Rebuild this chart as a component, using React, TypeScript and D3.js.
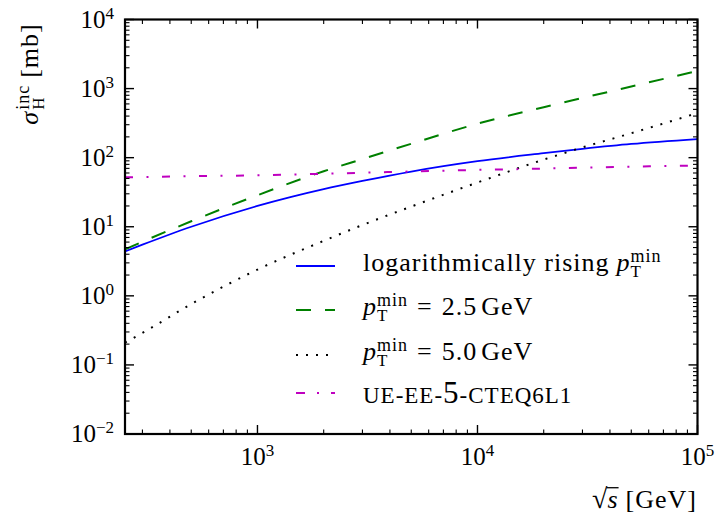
import React, { useEffect, useRef } from 'react';
import * as d3 from 'd3';

// sqrt(s) in GeV
const energies = [250, 300, 500, 1000, 2000, 3000, 5000, 10000, 20000, 30000, 50000, 100000];
// inclusive cross sections in mb
const sigmaLogRising = [4.4, 5.5, 10, 20, 35, 46, 63, 89, 116, 134, 158, 186];
const sigmaPt25 = [4.7, 6.07, 12, 28.6, 63.5, 95.5, 159, 310, 537, 731, 1072, 1800];
const sigmaPt50 = [0.21, 0.29, 0.76, 2.4, 6.25, 10.6, 19.6, 43.7, 93.8, 140.6, 226, 442];
const sigmaTune = [52, 52.5, 54, 55.5, 58.5, 60.5, 63, 66.5, 69.5, 71.5, 74, 77];

const xTickExponents = [3, 4, 5];
const yTickExponents = [-2, -1, 0, 1, 2, 3, 4];

const FONT = '"Liberation Serif", "DejaVu Serif", serif';

type Piece = {
    t?: string;
    size?: number;
    italic?: boolean;
    dy?: number;
    gap?: number;
    over?: boolean;
    sup?: string;
    sub?: string;
};

type Style = {
    size: number;
    script: number;
    spacing: number;
    supDy: number;
    subDy: number;
};

const tickStyle: Style = { size: 25, script: 17, spacing: 0, supDy: -9, subDy: 6 };
const textStyle: Style = { size: 26, script: 18, spacing: 1, supDy: -9, subDy: 6 };

/**
 * Lays out a small piece of "math" text, one <text> per chunk.
 */
function mathText(parent: any, x: number, y: number, pieces: Array<Piece>, st: Style,
        anchor = 'start', rotate = 0) {
    const g = parent.append('g')
        .attr('transform', `translate(${x},${y}) rotate(${rotate})`);
    const inner = g.append('g');
    let cx = 0;

    const put = (t: string, size: number, italic: boolean, dy: number) => {
        const el = inner.append('text')
            .attr('x', cx)
            .attr('y', dy)
            .attr('font-size', size)
            .attr('font-family', FONT)
            .attr('font-style', italic ? 'italic' : 'normal')
            .attr('letter-spacing', st.spacing)
            .attr('fill', '#000')
            .text(t);

        return el.node().getComputedTextLength();
    };

    pieces.forEach(p => {
        if (p.sup !== undefined || p.sub !== undefined) {
            const w1 = p.sup ? put(p.sup, st.script, false, st.supDy) : 0;
            const w2 = p.sub ? put(p.sub, st.script - 1, false, st.subDy) : 0;

            cx += Math.max(w1, w2) + (p.gap || 0);
        } else {
            const size = p.size || st.size;
            const w = put(p.t || '', size, !!p.italic, p.dy || 0);

            if (p.over) {
                inner.append('line')
                    .attr('x1', cx - 1)
                    .attr('x2', cx + w)
                    .attr('y1', -size * 0.78)
                    .attr('y2', -size * 0.78)
                    .attr('stroke', '#000')
                    .attr('stroke-width', 1.3);
            }
            cx += w + (p.gap || 0);
        }
    });

    const shift = anchor === 'end' ? -cx : anchor === 'middle' ? -cx / 2 : 0;

    inner.attr('transform', `translate(${shift},0)`);
}

const App = () => {
    const ref = useRef<SVGSVGElement>(null);

    useEffect(() => {
        document.body.style.margin = '0';
        const svg = d3.select(ref.current);

        svg.selectAll('*').remove();

        const left = 125;
        const right = 697.5;
        const top = 19.5;
        const bottom = 434;

        const x = d3.scaleLog().domain([250, 1e5]).range([left, right]);
        const y = d3.scaleLog().domain([1e-2, 1e4]).range([bottom, top]);

        svg.append('defs').append('clipPath')
            .attr('id', 'plot-clip')
            .append('rect')
            .attr('x', left)
            .attr('y', top)
            .attr('width', right - left)
            .attr('height', bottom - top);

        const series = [
            { values: sigmaLogRising, color: '#0000ff', dash: null, width: 1.8 },
            { values: sigmaPt25, color: '#008000', dash: '15,14', width: 2 },
            { values: sigmaPt50, color: '#000000', dash: '2,8', width: 2 },
            { values: sigmaTune, color: '#bf00bf', dash: '8,13.5,2,13.5', width: 2 }
        ];

        const line = d3.line<[number, number]>()
            .x(d => x(d[0]))
            .y(d => y(d[1]))
            .curve(d3.curveMonotoneX);

        const plot = svg.append('g').attr('clip-path', 'url(#plot-clip)');

        series.forEach(s => {
            plot.append('path')
                .datum(energies.map((e, i) => [e, s.values[i]] as [number, number]))
                .attr('d', line)
                .attr('fill', 'none')
                .attr('stroke', s.color)
                .attr('stroke-width', s.width)
                .attr('stroke-dasharray', s.dash);
        });

        // ticks on all four sides, pointing inwards
        const ticks = svg.append('g').attr('stroke', '#000');
        const xMajor = xTickExponents.map(e => Math.pow(10, e));
        const xMinor: Array<number> = [];

        [2, 3, 4].forEach(e => {
            for (let k = 2; k <= 9; k++) {
                const v = k * Math.pow(10, e);

                if (v >= 250 && v <= 1e5) {
                    xMinor.push(v);
                }
            }
        });
        const yMajor = yTickExponents.map(e => Math.pow(10, e));
        const yMinor: Array<number> = [];

        [-2, -1, 0, 1, 2, 3].forEach(e => {
            for (let k = 2; k <= 9; k++) {
                yMinor.push(k * Math.pow(10, e));
            }
        });

        const addX = (vals: Array<number>, len: number, w: number) => {
            vals.forEach(v => {
                const px = x(v);

                ticks.append('line').attr('x1', px).attr('x2', px)
                    .attr('y1', bottom).attr('y2', bottom - len).attr('stroke-width', w);
                ticks.append('line').attr('x1', px).attr('x2', px)
                    .attr('y1', top).attr('y2', top + len).attr('stroke-width', w);
            });
        };
        const addY = (vals: Array<number>, len: number, w: number) => {
            vals.forEach(v => {
                const py = y(v);

                ticks.append('line').attr('y1', py).attr('y2', py)
                    .attr('x1', left).attr('x2', left + len).attr('stroke-width', w);
                ticks.append('line').attr('y1', py).attr('y2', py)
                    .attr('x1', right).attr('x2', right - len).attr('stroke-width', w);
            });
        };

        addX(xMajor, 9, 1.4);
        addX(xMinor, 4.5, 1.1);
        addY(yMajor, 9, 1.4);
        addY(yMinor, 4.5, 1.1);

        svg.append('rect')
            .attr('x', left)
            .attr('y', top)
            .attr('width', right - left)
            .attr('height', bottom - top)
            .attr('fill', 'none')
            .attr('stroke', '#000')
            .attr('stroke-width', 2.2);

        // tick labels
        xTickExponents.forEach(e => {
            mathText(svg, x(Math.pow(10, e)), 465,
                [ { t: '10' }, { sup: String(e) } ], tickStyle, 'middle');
        });
        yTickExponents.forEach(e => {
            mathText(svg, 114, y(Math.pow(10, e)) + 8,
                [ { t: '10' }, { sup: e < 0 ? `\u2212${-e}` : String(e) } ], tickStyle, 'end');
        });

        // axis titles
        mathText(svg, 697, 508, [
            { t: '\u221A', size: 28, gap: -1 },
            { t: 's', italic: true, over: true, gap: 7 },
            { t: '[GeV]' }
        ], textStyle, 'end');

        mathText(svg, 37.5, 74, [
            { t: '\u03C3', italic: true, gap: 1 },
            { sup: 'inc', sub: 'H', gap: 7 },
            { t: '[mb]' }
        ], textStyle, 'middle', -90);

        // legend
        const legend = [
            { color: '#0000ff', dash: null, width: 1.8, ly: 266, ty: 271,
                pieces: [ { t: 'logarithmically rising', gap: 7 }, { t: 'p', italic: true }, { sup: 'min', sub: 'T' } ] },
            { color: '#008000', dash: '15,14', width: 2, ly: 310, ty: 315,
                pieces: [ { t: 'p', italic: true }, { sup: 'min', sub: 'T', gap: 9 }, { t: '=', gap: 9 }, { t: '2.5', gap: 4 }, { t: 'GeV' } ] },
            { color: '#000000', dash: '2,8', width: 2, ly: 355, ty: 360,
                pieces: [ { t: 'p', italic: true }, { sup: 'min', sub: 'T', gap: 9 }, { t: '=', gap: 9 }, { t: '5.0', gap: 4 }, { t: 'GeV' } ] },
            { color: '#bf00bf', dash: '9,12,2,12', width: 2, ly: 393, ty: 403,
                pieces: [ { t: 'UE-EE-', size: 23 }, { t: '5', size: 31 }, { t: '-CTEQ6L1', size: 23 } ] }
        ];

        legend.forEach(l => {
            svg.append('line')
                .attr('x1', 296)
                .attr('x2', 335)
                .attr('y1', l.ly)
                .attr('y2', l.ly)
                .attr('stroke', l.color)
                .attr('stroke-width', l.width)
                .attr('stroke-dasharray', l.dash);
            mathText(svg, 363, l.ty, l.pieces, textStyle);
        });
    }, []);

    return (
        <svg ref={ref} width={717} height={518} style={{ display: 'block', background: '#fff' }} />
    );
};

export default App;
